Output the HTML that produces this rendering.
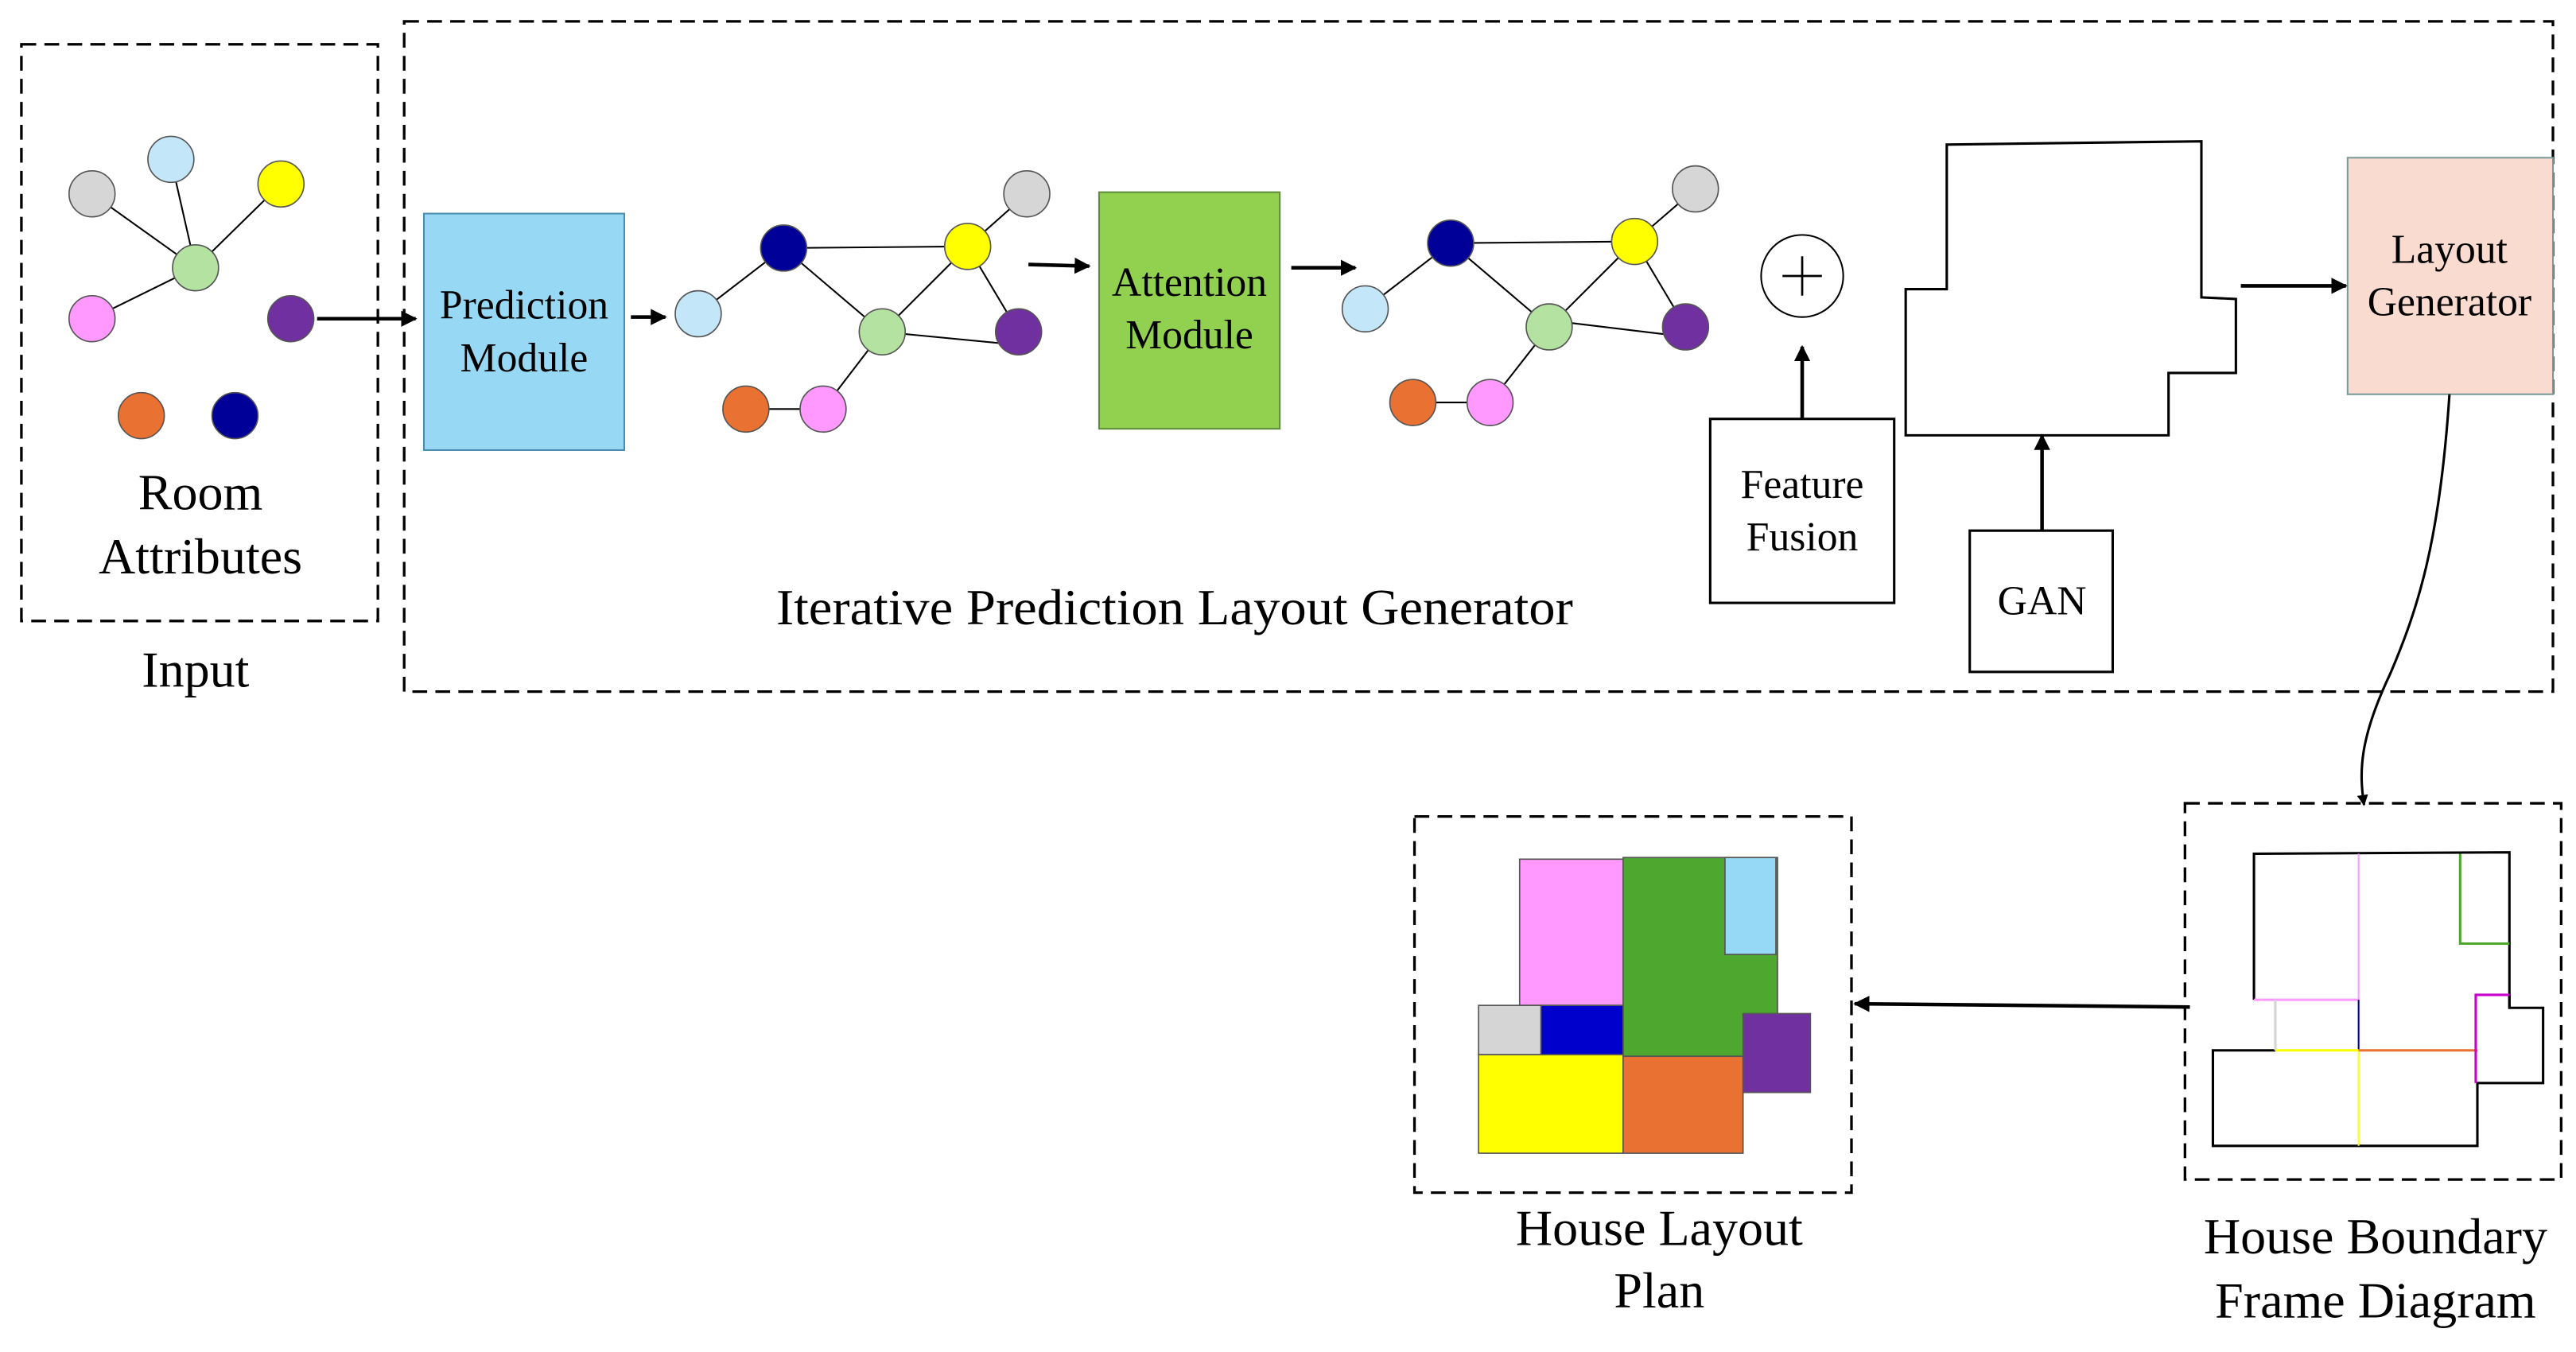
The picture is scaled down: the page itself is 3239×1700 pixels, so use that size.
<!DOCTYPE html>
<html><head><meta charset="utf-8"><style>html,body{margin:0;padding:0;background:#fff}svg{display:block}text{font-family:"Liberation Serif","Times New Roman",serif;fill:#000}</style></head><body>
<svg width="3239" height="1700" viewBox="0 0 1568 823" xmlns="http://www.w3.org/2000/svg" font-family="Liberation Serif, Times New Roman, serif">
<defs><marker id="a" viewBox="0 0 10 10" refX="9" refY="5" markerWidth="4.5" markerHeight="4.5" orient="auto"><path d="M0,0L10,5L0,10z" fill="#000"/></marker></defs>
<g fill="none" stroke="#000" stroke-width="1.6" stroke-dasharray="9,5">
<rect x="13" y="27" width="217" height="351"/>
<rect x="246" y="13" width="1308" height="408"/>
<rect x="861" y="497" width="266" height="229"/>
<rect x="1330" y="489" width="229" height="229"/>
</g>
<g stroke="#000" stroke-width="1">
<line x1="56" y1="118" x2="119" y2="163"/><line x1="104" y1="97" x2="119" y2="163"/><line x1="171" y1="112" x2="119" y2="163"/><line x1="56" y1="194" x2="119" y2="163"/>
<line x1="425" y1="191" x2="477" y2="151"/><line x1="477" y1="151" x2="589" y2="150"/><line x1="477" y1="151" x2="537" y2="202"/><line x1="589" y1="150" x2="625" y2="118"/><line x1="589" y1="150" x2="537" y2="202"/><line x1="589" y1="150" x2="620" y2="202"/><line x1="537" y1="202" x2="620" y2="210"/><line x1="537" y1="202" x2="501" y2="249"/><line x1="454" y1="249" x2="501" y2="249"/>
<line x1="831" y1="188" x2="883" y2="148"/><line x1="883" y1="148" x2="995" y2="147"/><line x1="883" y1="148" x2="943" y2="199"/><line x1="995" y1="147" x2="1032" y2="115"/><line x1="995" y1="147" x2="943" y2="199"/><line x1="995" y1="147" x2="1026" y2="199"/><line x1="943" y1="195" x2="1026" y2="205"/><line x1="943" y1="199" x2="907" y2="245"/><line x1="860" y1="245" x2="907" y2="245"/>
</g>
<g stroke="#555" stroke-width="0.8">
<circle cx="56" cy="118" r="14" fill="#D6D6D6"/><circle cx="104" cy="97" r="14" fill="#C3E6F8"/><circle cx="171" cy="112" r="14" fill="#FFFF00"/><circle cx="119" cy="163" r="14" fill="#B3E2A1"/><circle cx="56" cy="194" r="14" fill="#FF99FF"/><circle cx="177" cy="194" r="14" fill="#7030A0"/><circle cx="86" cy="253" r="14" fill="#E97132"/><circle cx="143" cy="253" r="14" fill="#000099"/>
<circle cx="425" cy="191" r="14" fill="#C3E6F8"/><circle cx="477" cy="151" r="14" fill="#000099"/><circle cx="589" cy="150" r="14" fill="#FFFF00"/><circle cx="625" cy="118" r="14" fill="#D6D6D6"/><circle cx="537" cy="202" r="14" fill="#B3E2A1"/><circle cx="620" cy="202" r="14" fill="#7030A0"/><circle cx="454" cy="249" r="14" fill="#E97132"/><circle cx="501" cy="249" r="14" fill="#FF99FF"/>
<circle cx="831" cy="188" r="14" fill="#C3E6F8"/><circle cx="883" cy="148" r="14" fill="#000099"/><circle cx="995" cy="147" r="14" fill="#FFFF00"/><circle cx="1032" cy="115" r="14" fill="#D6D6D6"/><circle cx="943" cy="199" r="14" fill="#B3E2A1"/><circle cx="1026" cy="199" r="14" fill="#7030A0"/><circle cx="860" cy="245" r="14" fill="#E97132"/><circle cx="907" cy="245" r="14" fill="#FF99FF"/>
</g>
<rect x="258" y="130" width="122" height="144" fill="#97D9F5" stroke="#4A8DB0" stroke-width="1"/>
<rect x="669" y="117" width="110" height="144" fill="#92D050" stroke="#5E8E3A" stroke-width="1"/>
<rect x="1429" y="96" width="125" height="144" fill="#FADBD0" stroke="#7A9A9A" stroke-width="1"/>
<g fill="#fff" stroke="#000" stroke-width="1.5">
<rect x="1041" y="255" width="112" height="112"/>
<rect x="1199" y="323" width="87" height="86"/>
<polygon points="1185,88 1340,86 1340,181 1361,182 1361,227 1320,227 1320,265 1160,265 1160,176 1185,176"/>
</g>
<circle cx="1097" cy="168" r="25" fill="#fff" stroke="#000" stroke-width="1"/>
<path d="M1085,168H1109M1097,156V180" stroke="#000" stroke-width="1.3"/>
<g stroke="#000" stroke-width="2.2" fill="none" marker-end="url(#a)">
<line x1="193" y1="194" x2="253" y2="194"/><line x1="384" y1="193" x2="405" y2="193"/><line x1="626" y1="161" x2="663" y2="162"/><line x1="786" y1="163" x2="825" y2="163"/>
<line x1="1097" y1="255" x2="1097" y2="211"/><line x1="1243" y1="323" x2="1243" y2="265"/><line x1="1364" y1="174" x2="1428" y2="174"/>
<line x1="1333" y1="613" x2="1129" y2="611"/>
</g>
<path d="M1491,240C1485,330 1472,370 1455,410C1436,450 1436,470 1439,490" stroke="#000" stroke-width="1.5" fill="none" marker-end="url(#a)"/>
<g stroke="#555" stroke-width="0.8">
<rect x="988" y="522" width="94" height="121" fill="#4EA72E"/>
<rect x="925" y="523" width="63" height="89" fill="#FF99FF"/>
<rect x="1050" y="522" width="31" height="59" fill="#95D9F7"/>
<rect x="900" y="612" width="38" height="30" fill="#D5D5D5"/>
<rect x="938" y="612" width="50" height="30" fill="#0000CC"/>
<rect x="900" y="642" width="88" height="60" fill="#FFFF00"/>
<rect x="988" y="643" width="73" height="59" fill="#E97132"/>
<rect x="1061" y="617" width="41" height="48" fill="#7030A0"/>
</g>
<g fill="none" stroke-width="1.5">
<polyline stroke="#000" points="1372,608.6 1372,519.7 1527.5,518.8 1527.5,613.5 1548,613.5 1548,659.3 1508,659.3 1508,697.5 1347,697.5 1347,639.4 1385,639.4"/>
<line x1="1527.5" y1="613.5" x2="1527.5" y2="605.6" stroke="#000"/>
<line x1="1372" y1="608.6" x2="1435.7" y2="608.6" stroke="#FF99FF"/>
<line x1="1435.7" y1="519.7" x2="1435.7" y2="608.6" stroke="#FF99FF" stroke-width="1"/>
<line x1="1385" y1="608.6" x2="1385" y2="639.4" stroke="#D5D5D5"/>
<line x1="1435.7" y1="608.6" x2="1435.7" y2="639.4" stroke="#000099" stroke-width="1"/>
<line x1="1385" y1="639.4" x2="1435.7" y2="639.4" stroke="#FFFF00"/>
<line x1="1435.7" y1="639.4" x2="1435.7" y2="697.5" stroke="#FFFF00" stroke-width="1"/>
<line x1="1435.7" y1="639.4" x2="1508" y2="639.4" stroke="#E97132"/>
<polyline stroke="#4EA72E" points="1497.5,519.7 1497.5,574.4 1527.5,574.4"/>
<polyline stroke="#CC00CC" points="1527.5,605.6 1507,605.6 1507,659.3"/>
</g>
<g text-anchor="middle" font-size="31">
<text x="122" y="310">Room</text><text x="122" y="349">Attributes</text>
<text x="119" y="418">Input</text>
<text x="715" y="380" textLength="485" lengthAdjust="spacingAndGlyphs">Iterative Prediction Layout Generator</text>
<text x="1010" y="758">House Layout</text><text x="1010" y="796">Plan</text>
<text x="1446" y="763">House Boundary</text><text x="1446" y="802">Frame Diagram</text>
</g>
<g text-anchor="middle" font-size="25">
<text x="319" y="194">Prediction</text><text x="319" y="226">Module</text>
<text x="724" y="180">Attention</text><text x="724" y="212">Module</text>
<text x="1491" y="160">Layout</text><text x="1491" y="192">Generator</text>
<text x="1097" y="303">Feature</text><text x="1097" y="335">Fusion</text>
<text x="1243" y="374">GAN</text>
</g>
</svg>
</body></html>
